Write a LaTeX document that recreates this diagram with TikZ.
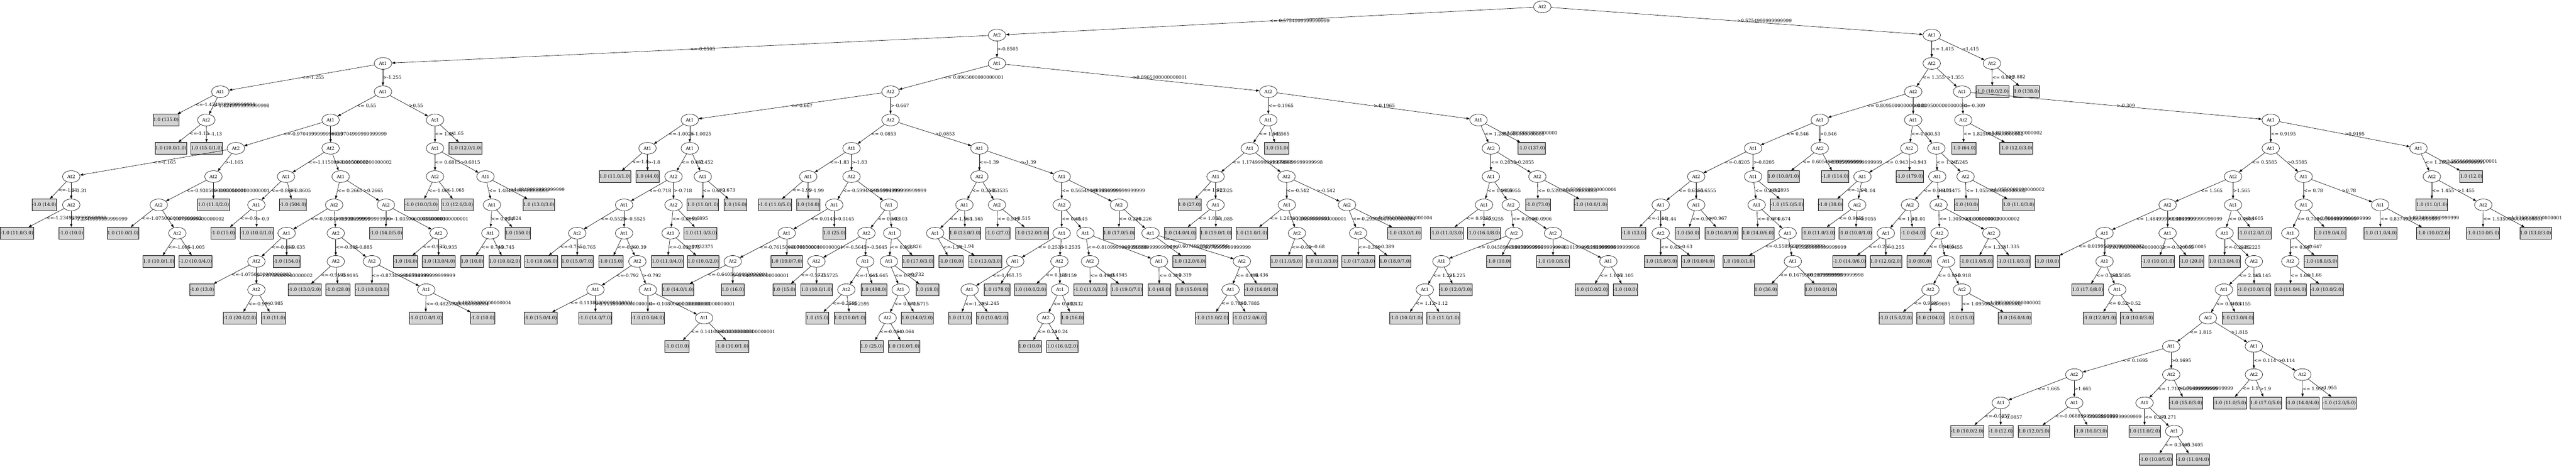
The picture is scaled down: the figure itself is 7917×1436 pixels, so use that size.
\documentclass[tikz,border=0pt]{standalone}
\usepackage{fontspec}
\setmainfont{DejaVu Serif}
\usepackage{tikz}
\usetikzlibrary{shapes.geometric,arrows.meta}
\definecolor{leafgray}{HTML}{D3D3D3}
\tikzset{split/.style={draw, ellipse, minimum width=54bp, minimum height=36bp, inner sep=0pt}}
\tikzset{leaf/.style={draw, rectangle, fill=leafgray, minimum height=36bp, inner xsep=0.5bp, inner ysep=0pt}}
\tikzset{lbl/.style={midway, anchor=west, inner sep=0pt}}

\begin{document}
\begin{tikzpicture}[x=1bp, y=-87bp, line width=1bp, font=\fontsize{14bp}{16bp}\selectfont, >={Triangle[length=10bp, width=7bp]}]
    \useasboundingbox (0bp,21bp) rectangle (7917bp,-1415bp);
    \foreach \n/\x/\y/\a in {r/4740/0/2, a/3064/1/2, b/5937/1/1, a1/1177/2/1, a2/3064/2/1,
      c1/677/3/1, c2/1177/3/1, c4/634/4/2, d1/1016/4/1, d2/1337/4/1, d3/725/5/2, d4/1016/5/2,
      d5/219/6/2, d6/656/6/2, d8/219/7/2, d11/488/7/2, d14/545/8/2,
      e1/879/6/1, e2/1047/6/1, e3/788/7/1, e7/1027/7/2, e8/1186/7/2, e9/881/8/1, e10/1032/8/2,
      e11/788/9/2, e14/788/10/2, e17/1032/9/2, e18/1143/9/2, e22/1310/10/1, e26/1348/8/2,
      g1/1337/5/1, g3/1337/6/2, g4/1492/6/1, g7/1512/7/1, g9/1507/8/1,
      h1/2737/3/2, h2/3898/3/2, i1/2120/4/1, i2/2737/4/2, i3/1990/5/1, i4/2120/5/1,
      i7/2070/6/2, i8/2160/6/1, i9/1918/7/1, i10/2070/7/2, i13/1774/8/2, i14/1918/8/1,
      i15/2061/8/1, i20/1959/9/2, i21/1830/10/1, i22/1991/10/1, i26/2164/11/1,
      j1/2617/5/1, j2/3010/5/1, j3/2484/6/1, j4/2617/6/2, j7/2564/7/1, j8/2732/7/1,
      j9/2418/8/1, j11/2252/9/2, j15/2663/8/2, j16/2742/8/1, j17/2509/9/2, j18/2659/9/1,
      j21/2601/10/2, j25/2732/9/1, j27/2768/10/1, j29/2728/11/2,
      k1/3010/6/2, k2/3263/6/1, k3/2964/7/1, k4/3064/7/2, k5/2874/8/1, k11/3263/7/2,
      k12/3439/7/2, k13/3263/8/1, k14/3336/8/1, k16/3536/8/1, k17/3120/9/1, k18/3256/9/2,
      k19/2980/10/1, k24/3258/10/1, k25/3214/11/2, k29/3350/9/2, k30/3562/9/1,
      k36/3817/9/2, k37/3782/10/1,
      m1/3898/4/1, m2/4544/4/1, m3/3841/5/1, m5/3736/6/1, m6/3954/6/2, m8/3736/7/1,
      m11/3955/7/1, m12/4140/7/2, m14/3986/8/2, m17/4174/8/2,
      n1/4582/5/2, n3/4582/6/1, n4/4725/6/2, n5/4561/7/1, n6/4643/7/2, n9/4653/8/2,
      n10/4773/8/2, n11/4430/9/1, n13/4379/10/1, n18/4943/9/1,
      p1/5937/2/2, p2/6122/2/2, p5/5880/3/2, p6/6030/3/1,
      q1/5593/4/1, q2/5880/4/1, q3/5388/5/1, q4/5593/5/2, q5/5213/6/2, q6/5388/6/1,
      q7/5104/7/1, q8/5213/7/1, q10/5104/8/2, q15/5399/7/1, q18/5494/8/1, q20/5510/9/1,
      q25/5868/5/2, q26/5951/5/1, q27/5724/6/1, q30/5708/7/2, q33/5954/6/1, q34/6041/6/2,
      q35/5870/7/2, q36/5958/7/2, q37/5796/8/1, q41/5961/8/2, q42/6120/8/2, q44/5981/9/1,
      q45/5933/10/2, q46/6030/10/2,
      s1/6034/4/2, s2/6979/4/1, s5/6979/5/1, s6/7433/5/1, s7/6863/6/2, s8/7080/6/1,
      s9/6662/7/2, s10/6863/7/1, s11/6468/8/1, s12/6662/8/1, s14/6468/9/1, s16/6507/10/1,
      s21/6837/8/1, s24/6927/9/2, s25/6835/10/1, s27/6786/11/2, s29/6673/12/1,
      s30/6927/12/1, s31/6375/13/2, s32/6673/13/2, s33/6149/14/1, s34/6375/14/1,
      s39/6591/14/1, s42/6682/15/1, s45/6927/13/2, s46/7076/13/2, s51/7080/7/1,
      s52/7315/7/1, s53/7039/8/1, s55/7039/9/2, s61/7474/6/2, s64/7632/7/2} {
      \node [split] (\n) at (\x,\y) {At\a};
    }
    \foreach \n/\x/\y/\t in {c3/510/4/{1.0 (135.0)}, c5/525/5/{1.0 (10.0/1.0)}, c6/635/5/{1.0 (15.0/1.0)},
      d7/136/7/{-1.0 (14.0)}, d9/52/8/{-1.0 (11.0/3.0)}, d10/219/8/{-1.0 (10.0)},
      d12/656/7/{1.0 (11.0/2.0)}, d13/378/8/{1.0 (10.0/3.0)}, d15/488/9/{1.0 (10.0/1.0)},
      d16/601/9/{-1.0 (10.0/4.0)}, e4/900/7/{-1.0 (504.0)}, e5/685/8/{-1.0 (15.0)},
      e6/789/8/{-1.0 (10.0/1.0)}, e12/881/9/{-1.0 (154.0)}, e13/621/10/{-1.0 (13.0)},
      e15/737/11/{-1.0 (20.0/2.0)}, e16/840/11/{-1.0 (11.0)}, e19/936/10/{-1.0 (13.0/2.0)},
      e20/1039/10/{-1.0 (28.0)}, e21/1143/10/{-1.0 (10.0/3.0)}, e23/1308/11/{-1.0 (10.0/1.0)},
      e24/1483/11/{-1.0 (10.0)}, e25/1186/8/{-1.0 (14.0/5.0)}, e27/1246/9/{-1.0 (16.0)},
      e28/1348/9/{-1.0 (13.0/4.0)}, g2/1430/5/{-1.0 (12.0/1.0)}, g5/1295/7/{-1.0 (10.0/3.0)},
      g6/1406/7/{1.0 (12.0/3.0)}, g8/1656/7/{1.0 (13.0/3.0)}, g10/1591/8/{1.0 (150.0)},
      g11/1451/9/{1.0 (10.0)}, g12/1551/9/{1.0 (10.0/2.0)},
      i5/1890/6/{1.0 (11.0/1.0)}, i6/1990/6/{1.0 (44.0)}, i11/2160/7/{1.0 (11.0/1.0)},
      i12/2260/7/{1.0 (16.0)}, i16/2153/8/{-1.0 (11.0/3.0)}, i17/1663/9/{-1.0 (18.0/6.0)},
      i18/1774/9/{1.0 (15.0/7.0)}, i19/1877/9/{-1.0 (15.0)}, i23/1661/11/{-1.0 (15.0/4.0)},
      i24/1830/11/{-1.0 (14.0/7.0)}, i25/1991/11/{-1.0 (10.0/4.0)}, i27/2081/12/{-1.0 (10.0)},
      i28/2250/12/{-1.0 (10.0/1.0)}, i29/2051/9/{1.0 (11.0/4.0)}, i30/2161/9/{1.0 (10.0/2.0)},
      j5/2382/7/{-1.0 (11.0/5.0)}, j6/2484/7/{1.0 (14.0)}, j10/2564/8/{1.0 (25.0)},
      j12/2418/9/{1.0 (19.0/7.0)}, j13/2084/10/{1.0 (14.0/1.0)}, j14/2252/10/{1.0 (16.0)},
      j19/2410/10/{1.0 (15.0)}, j20/2510/10/{1.0 (10.0/1.0)}, j22/2686/10/{1.0 (498.0)},
      j23/2512/11/{1.0 (15.0)}, j24/2612/11/{1.0 (10.0/1.0)}, j26/2821/9/{1.0 (17.0/3.0)},
      j28/2850/10/{1.0 (18.0)}, j30/2819/11/{1.0 (14.0/2.0)}, j31/2679/12/{1.0 (25.0)},
      j32/2778/12/{1.0 (10.0/1.0)},
      k6/2966/8/{1.0 (13.0/3.0)}, k7/2923/9/{-1.0 (10.0)}, k8/3028/9/{-1.0 (13.0/3.0)},
      k9/3067/8/{-1.0 (27.0)}, k10/3172/8/{-1.0 (12.0/1.0)}, k15/3439/8/{1.0 (17.0/5.0)},
      k20/3064/10/{1.0 (178.0)}, k21/2950/11/{1.0 (11.0)}, k22/3050/11/{1.0 (10.0/2.0)},
      k23/3167/10/{1.0 (10.0/2.0)}, k26/3296/11/{1.0 (16.0)}, k27/3165/12/{1.0 (10.0)},
      k28/3265/12/{1.0 (16.0/2.0)}, k31/3351/10/{-1.0 (11.0/3.0)}, k32/3463/10/{1.0 (19.0/7.0)},
      k33/3563/10/{1.0 (48.0)}, k34/3663/10/{1.0 (15.0/4.0)}, k35/3655/9/{-1.0 (12.0/6.0)},
      k38/3875/10/{-1.0 (14.0/1.0)}, k39/3725/11/{-1.0 (11.0/2.0)}, k40/3840/11/{-1.0 (12.0/6.0)},
      m4/3923/5/{-1.0 (51.0)}, m7/3656/7/{1.0 (27.0)}, m9/3627/8/{1.0 (14.0/4.0)},
      m10/3737/8/{1.0 (19.0/1.0)}, m13/3847/8/{1.0 (11.0/1.0)}, m15/3953/9/{1.0 (11.0/5.0)},
      m16/4063/9/{1.0 (11.0/3.0)}, m18/4316/8/{-1.0 (13.0/1.0)}, m19/4175/9/{-1.0 (17.0/3.0)},
      m20/4288/9/{1.0 (18.0/7.0)},
      n2/4707/5/{-1.0 (137.0)}, n7/4446/8/{-1.0 (11.0/3.0)}, n8/4560/8/{-1.0 (16.0/8.0)},
      n12/4606/9/{-1.0 (10.0)}, n14/4473/10/{-1.0 (12.0/3.0)}, n15/4321/11/{-1.0 (10.0/1.0)},
      n16/4435/11/{-1.0 (11.0/1.0)}, n17/4773/9/{-1.0 (10.0/5.0)}, n19/4891/10/{-1.0 (10.0/2.0)},
      n20/4995/10/{-1.0 (10.0)}, n21/4727/7/{-1.0 (73.0)}, n22/4889/7/{-1.0 (10.0/1.0)},
      p3/6123/3/{-1.0 (10.0/2.0)}, p4/6228/3/{1.0 (138.0)},
      q9/5021/8/{-1.0 (13.0)}, q11/5104/9/{-1.0 (15.0/3.0)}, q12/5218/9/{-1.0 (10.0/4.0)},
      q13/5186/8/{-1.0 (50.0)}, q14/5291/8/{-1.0 (10.0/1.0)}, q16/5492/7/{-1.0 (15.0/5.0)},
      q17/5403/8/{1.0 (14.0/6.0)}, q19/5344/9/{1.0 (10.0/1.0)}, q21/5427/10/{1.0 (36.0)},
      q22/5595/10/{1.0 (10.0/1.0)}, q23/5481/6/{1.0 (10.0/1.0)}, q24/5640/6/{-1.0 (114.0)},
      q28/5869/6/{-1.0 (179.0)}, q29/5626/7/{-1.0 (38.0)}, q31/5589/8/{-1.0 (11.0/3.0)},
      q32/5703/8/{-1.0 (10.0/1.0)}, q38/5879/8/{-1.0 (54.0)}, q39/5684/9/{-1.0 (14.0/6.0)},
      q40/5796/9/{1.0 (12.0/2.0)}, q43/5898/9/{-1.0 (80.0)}, q47/5826/11/{-1.0 (15.0/2.0)},
      q48/5933/11/{-1.0 (104.0)}, q49/6030/11/{-1.0 (15.0)}, q50/6192/11/{-1.0 (16.0/4.0)},
      q51/6074/9/{-1.0 (11.0/5.0)}, q52/6189/9/{-1.0 (11.0/3.0)}, q53/6043/7/{-1.0 (10.0)},
      q54/6204/7/{1.0 (11.0/3.0)},
      s3/6035/5/{-1.0 (64.0)}, s4/6196/5/{-1.0 (12.0/3.0)}, s13/6292/9/{-1.0 (10.0)},
      s15/6416/10/{1.0 (17.0/8.0)}, s17/6453/11/{-1.0 (12.0/1.0)}, s18/6567/11/{-1.0 (10.0/3.0)},
      s19/6632/9/{-1.0 (10.0/1.0)}, s20/6735/9/{-1.0 (20.0)}, s22/6929/8/{-1.0 (12.0/1.0)},
      s23/6837/9/{1.0 (13.0/4.0)}, s26/6928/10/{-1.0 (10.0/1.0)}, s28/6878/11/{1.0 (13.0/4.0)},
      s35/6046/15/{-1.0 (10.0/2.0)}, s36/6149/15/{-1.0 (12.0)}, s37/6251/15/{1.0 (12.0/5.0)},
      s38/6426/15/{-1.0 (16.0/3.0)}, s40/6718/14/{-1.0 (15.0/3.0)}, s41/6591/15/{1.0 (11.0/2.0)},
      s43/6625/16/{-1.0 (10.0/5.0)}, s44/6739/16/{-1.0 (11.0/4.0)}, s47/6853/14/{-1.0 (11.0/5.0)},
      s48/6964/14/{1.0 (17.0/5.0)}, s49/7077/14/{-1.0 (14.0/4.0)}, s50/7190/14/{-1.0 (12.0/5.0)},
      s54/7161/8/{1.0 (19.0/4.0)}, s56/7133/9/{-1.0 (18.0/5.0)}, s57/7040/10/{1.0 (11.0/4.0)},
      s58/7151/10/{-1.0 (10.0/2.0)}, s59/7316/8/{-1.0 (11.0/4.0)}, s60/7478/8/{-1.0 (10.0/2.0)},
      s62/7595/6/{1.0 (12.0)}, s63/7474/7/{1.0 (11.0/1.0)}, s65/7631/8/{-1.0 (10.0/5.0)},
      s66/7793/8/{1.0 (13.0/3.0)}} {
      \node [leaf] (\n) at (\x,\y) {\t};
    }
    \foreach \a/\b/\t in {r/a/{<= 0.5754999999999999}, r/b/{>0.5754999999999999},
      a/a1/{<=-0.8505}, a/a2/{>-0.8505}, a1/c1/{<=-1.255}, a1/c2/{>-1.255},
      c1/c3/{<=-1.4249999999999998}, c1/c4/{>-1.4249999999999998}, c4/c5/{<=-1.13}, c4/c6/{>-1.13},
      c2/d1/{<= 0.55}, c2/d2/{>0.55}, d1/d3/{<=-0.9704999999999999}, d1/d4/{>-0.9704999999999999},
      d3/d5/{<=-1.165}, d3/d6/{>-1.165}, d5/d7/{<=-1.31}, d5/d8/{>-1.31},
      d8/d9/{<=-1.2349999999999999}, d8/d10/{>-1.2349999999999999},
      d6/d11/{<=-0.9305000000000001}, d6/d12/{>-0.9305000000000001},
      d11/d13/{<=-1.0750000000000002}, d11/d14/{>-1.0750000000000002},
      d14/d15/{<=-1.005}, d14/d16/{>-1.005},
      d4/e1/{<=-1.1150000000000002}, d4/e2/{>-1.1150000000000002},
      e1/e3/{<=-0.8605}, e1/e4/{>-0.8605}, e3/e5/{<=-0.9}, e3/e6/{>-0.9},
      e2/e7/{<= 0.2665}, e2/e8/{>0.2665}, e7/e9/{<=-0.9384999999999999}, e7/e10/{>-0.9384999999999999},
      e9/e11/{<=-0.635}, e9/e12/{>-0.635}, e11/e13/{<=-1.0750000000000002}, e11/e14/{>-1.0750000000000002},
      e14/e15/{<=-0.985}, e14/e16/{>-0.985}, e10/e17/{<=-0.885}, e10/e18/{>-0.885},
      e17/e19/{<=-0.9195}, e17/e20/{>-0.9195}, e18/e21/{<=-0.8734999999999999}, e18/e22/{>-0.8734999999999999},
      e22/e23/{<=-0.48250000000000004}, e22/e24/{>-0.48250000000000004},
      e8/e25/{<=-1.0350000000000001}, e8/e26/{>-1.0350000000000001}, e26/e27/{<=-0.935}, e26/e28/{>-0.935},
      d2/g1/{<= 1.65}, d2/g2/{>1.65}, g1/g3/{<= 0.6815}, g1/g4/{>0.6815}, g3/g5/{<=-1.065}, g3/g6/{>-1.065},
      g4/g7/{<= 1.4849999999999999}, g4/g8/{>1.4849999999999999}, g7/g9/{<= 0.824}, g7/g10/{>0.824},
      g9/g11/{<= 0.745}, g9/g12/{>0.745},
      a2/h1/{<= 0.8965000000000001}, a2/h2/{>0.8965000000000001}, h1/i1/{<=-0.667}, h1/i2/{>-0.667},
      i1/i3/{<=-1.0025}, i1/i4/{>-1.0025}, i3/i5/{<=-1.8}, i3/i6/{>-1.8}, i4/i7/{<= 0.452}, i4/i8/{>0.452},
      i7/i9/{<=-0.718}, i7/i10/{>-0.718}, i8/i11/{<= 0.673}, i8/i12/{>0.673},
      i9/i13/{<=-0.5525}, i9/i14/{>-0.5525}, i10/i15/{<=-0.6895}, i10/i16/{>-0.6895},
      i13/i17/{<=-0.765}, i13/i18/{>-0.765}, i14/i19/{<=-0.39}, i14/i20/{>-0.39},
      i20/i21/{<=-0.792}, i20/i22/{>-0.792}, i21/i23/{<= 0.11380000000000001}, i21/i24/{>0.11380000000000001},
      i22/i25/{<=-0.10800000000000001}, i22/i26/{>-0.10800000000000001},
      i26/i27/{<= 0.14100000000000001}, i26/i28/{>0.14100000000000001},
      i15/i29/{<=-0.032375}, i15/i30/{>-0.032375},
      i2/j1/{<= 0.0853}, i2/j2/{>0.0853}, j1/j3/{<=-1.83}, j1/j4/{>-1.83}, j3/j5/{<=-1.99}, j3/j6/{>-1.99},
      j4/j7/{<=-0.5994999999999999}, j4/j8/{>-0.5994999999999999}, j7/j9/{<= 0.0145}, j7/j10/{>0.0145},
      j9/j11/{<=-0.7615000000000001}, j9/j12/{>-0.7615000000000001},
      j11/j13/{<=-0.6405000000000001}, j11/j14/{>-0.6405000000000001},
      j8/j15/{<= 0.503}, j8/j16/{>0.503}, j15/j17/{<=-0.5645}, j15/j18/{>-0.5645},
      j17/j19/{<=-0.5725}, j17/j20/{>-0.5725}, j18/j21/{<=-1.645}, j18/j22/{>-1.645},
      j21/j23/{<=-0.2595}, j21/j24/{>-0.2595}, j16/j25/{<= 0.826}, j16/j26/{>0.826},
      j25/j27/{<= 0.732}, j25/j28/{>0.732}, j27/j29/{<= 0.6715}, j27/j30/{>0.6715},
      j29/j31/{<=-0.064}, j29/j32/{>-0.064},
      j2/k1/{<=-1.39}, j2/k2/{>-1.39}, k1/k3/{<= 0.3535}, k1/k4/{>0.3535}, k3/k5/{<=-1.565}, k3/k6/{>-1.565},
      k5/k7/{<=-1.94}, k5/k8/{>-1.94}, k4/k9/{<= 0.515}, k4/k10/{>0.515},
      k2/k11/{<= 0.5654999999999999}, k2/k12/{>0.5654999999999999}, k11/k13/{<= 0.45}, k11/k14/{>0.45},
      k12/k15/{<= 0.226}, k12/k16/{>0.226}, k13/k17/{<= 0.2535}, k13/k18/{>0.2535},
      k17/k19/{<=-1.15}, k17/k20/{>-1.15}, k19/k21/{<=-1.245}, k19/k22/{>-1.245},
      k18/k23/{<= 0.159}, k18/k24/{>0.159}, k24/k25/{<= 0.432}, k24/k26/{>0.432},
      k25/k27/{<= 0.24}, k25/k28/{>0.24}, k14/k29/{<=-0.8109999999999999}, k14/k30/{>-0.8109999999999999},
      k29/k31/{<= 0.4945}, k29/k32/{>0.4945}, k30/k33/{<= 0.319}, k30/k34/{>0.319},
      k16/k35/{<= 0.6074999999999999}, k16/k36/{>0.6074999999999999}, k36/k37/{<= 0.436}, k36/k38/{>0.436},
      k37/k39/{<= 0.7885}, k37/k40/{>0.7885},
      h2/m1/{<=-0.1965}, h2/m2/{>-0.1965}, m1/m3/{<= 1.565}, m1/m4/{>1.565},
      m3/m5/{<= 1.1749999999999998}, m3/m6/{>1.1749999999999998}, m5/m7/{<= 1.025}, m5/m8/{>1.025},
      m8/m9/{<= 1.085}, m8/m10/{>1.085}, m6/m11/{<=-0.542}, m6/m12/{>-0.542},
      m11/m13/{<= 1.2650000000000001}, m11/m14/{>1.2650000000000001}, m14/m15/{<=-0.68}, m14/m16/{>-0.68},
      m12/m17/{<=-0.29500000000000004}, m12/m18/{>-0.29500000000000004}, m17/m19/{<=-0.389}, m17/m20/{>-0.389},
      m2/n1/{<= 1.2850000000000001}, m2/n2/{>1.2850000000000001}, n1/n3/{<= 0.2855}, n1/n4/{>0.2855},
      n3/n5/{<= 0.9955}, n3/n6/{>0.9955}, n5/n7/{<= 0.9255}, n5/n8/{>0.9255}, n6/n9/{<= 0.0906}, n6/n10/{>0.0906},
      n9/n11/{<= 0.045899999999999996}, n9/n12/{>0.045899999999999996}, n11/n13/{<= 1.225}, n11/n14/{>1.225},
      n13/n15/{<= 1.12}, n13/n16/{>1.12}, n10/n17/{<=-0.16199999999999998}, n10/n18/{>-0.16199999999999998},
      n18/n19/{<= 1.105}, n18/n20/{>1.105}, n4/n21/{<= 0.5395000000000001}, n4/n22/{>0.5395000000000001},
      b/p1/{<= 1.415}, b/p2/{>1.415}, p2/p3/{<= 0.882}, p2/p4/{>0.882}, p1/p5/{<= 1.355}, p1/p6/{>1.355},
      p5/q1/{<= 0.8095000000000001}, p5/q2/{>0.8095000000000001}, q1/q3/{<= 0.546}, q1/q4/{>0.546},
      q3/q5/{<=-0.8205}, q3/q6/{>-0.8205}, q5/q7/{<= 0.6555}, q5/q8/{>0.6555}, q7/q9/{<=-1.44}, q7/q10/{>-1.44},
      q10/q11/{<= 0.63}, q10/q12/{>0.63}, q8/q13/{<=-0.967}, q8/q14/{>-0.967}, q6/q15/{<= 0.2895}, q6/q16/{>0.2895},
      q15/q17/{<=-0.674}, q15/q18/{>-0.674}, q18/q19/{<=-0.5589999999999999}, q18/q20/{>-0.5589999999999999},
      q20/q21/{<= 0.16799999999999998}, q20/q22/{>0.16799999999999998},
      q4/q23/{<= 0.6054999999999999}, q4/q24/{>0.6054999999999999}, q2/q25/{<=-0.53}, q2/q26/{>-0.53},
      q25/q27/{<= 0.943}, q25/q28/{>0.943}, q27/q29/{<=-1.04}, q27/q30/{>-1.04}, q30/q31/{<= 0.9055}, q30/q32/{>0.9055},
      q26/q33/{<= 1.245}, q26/q34/{>1.245}, q33/q35/{<= 0.01475}, q33/q36/{>0.01475}, q35/q37/{<= 1.01}, q35/q38/{>1.01},
      q37/q39/{<=-0.255}, q37/q40/{>-0.255}, q36/q41/{<= 1.3050000000000002}, q36/q42/{>1.3050000000000002},
      q41/q43/{<= 0.9455}, q41/q44/{>0.9455}, q44/q45/{<= 0.918}, q44/q46/{>0.918},
      q45/q47/{<= 0.9695}, q45/q48/{>0.9695}, q46/q49/{<= 1.0950000000000002}, q46/q50/{>1.0950000000000002},
      q42/q51/{<= 1.335}, q42/q52/{>1.335}, q34/q53/{<= 1.0550000000000002}, q34/q54/{>1.0550000000000002},
      p6/s1/{<=-0.309}, p6/s2/{>-0.309}, s1/s3/{<= 1.8250000000000002}, s1/s4/{>1.8250000000000002},
      s2/s5/{<= 0.9195}, s2/s6/{>0.9195}, s5/s7/{<= 0.5585}, s5/s8/{>0.5585}, s7/s9/{<= 1.565}, s7/s10/{>1.565},
      s9/s11/{<= 1.4849999999999999}, s9/s12/{>1.4849999999999999},
      s11/s13/{<= 0.019950000000000002}, s11/s14/{>0.019950000000000002},
      s14/s15/{<= 0.3585}, s14/s16/{>0.3585}, s16/s17/{<= 0.52}, s16/s18/{>0.52},
      s12/s19/{<=-0.020005}, s12/s20/{>-0.020005}, s10/s21/{<= 0.4605}, s10/s22/{>0.4605},
      s21/s23/{<=-0.2225}, s21/s24/{>-0.2225}, s24/s25/{<= 2.145}, s24/s26/{>2.145},
      s25/s27/{<= 0.4155}, s25/s28/{>0.4155}, s27/s29/{<= 1.815}, s27/s30/{>1.815},
      s29/s31/{<= 0.1695}, s29/s32/{>0.1695}, s31/s33/{<= 1.665}, s31/s34/{>1.665},
      s33/s35/{<=-0.0857}, s33/s36/{>-0.0857}, s34/s37/{<=-0.06889999999999999}, s34/s38/{>-0.06889999999999999},
      s32/s39/{<= 1.7149999999999999}, s32/s40/{>1.7149999999999999}, s39/s41/{<= 0.271}, s39/s42/{>0.271},
      s42/s43/{<= 0.3405}, s42/s44/{>0.3405}, s30/s45/{<= 0.114}, s30/s46/{>0.114},
      s45/s47/{<= 1.9}, s45/s48/{>1.9}, s46/s49/{<= 1.955}, s46/s50/{>1.955},
      s8/s51/{<= 0.78}, s8/s52/{>0.78}, s51/s53/{<= 0.7084999999999999}, s51/s54/{>0.7084999999999999},
      s53/s55/{<= 0.647}, s53/s56/{>0.647}, s55/s57/{<= 1.66}, s55/s58/{>1.66},
      s52/s59/{<= 0.8374999999999999}, s52/s60/{>0.8374999999999999},
      s6/s61/{<= 1.2650000000000001}, s6/s62/{>1.2650000000000001}, s61/s63/{<= 1.455}, s61/s64/{>1.455},
      s64/s65/{<= 1.5350000000000001}, s64/s66/{>1.5350000000000001}} {
      \draw [->] (\a) -- (\b) node [lbl] {\t};
    }
\end{tikzpicture}
\end{document}
